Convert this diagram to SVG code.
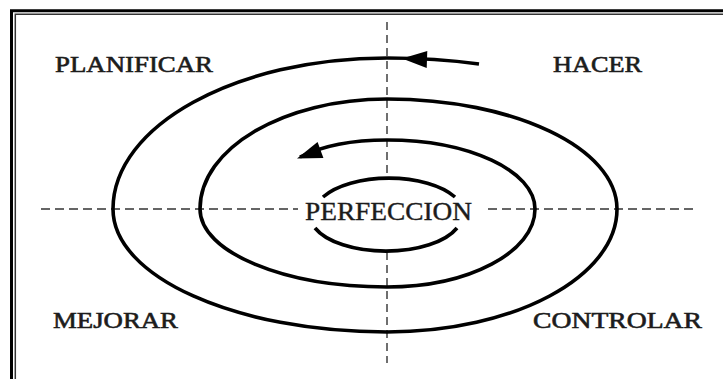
<svg xmlns="http://www.w3.org/2000/svg" xmlns:xlink="http://www.w3.org/1999/xlink" width="723" height="379" viewBox="0 0 723 379">
  <style>
    .lbl { font-family: "Liberation Serif", "Times New Roman", serif; fill: #1c1c1c; stroke: #1c1c1c; stroke-width: 0.6; }
    .big { font-size: 22.5px; }
    .ctr { font-size: 26px; stroke-width: 0.4; }
    .axis { fill: none; stroke: #333; stroke-width: 1.4; }
    .curve { fill: none; stroke: #000; stroke-width: 3.6; stroke-linecap: butt; }
  </style>
  <defs>
    <path id="ah" d="M0,0 L-25,-8.5 L-25,8.5 Z" fill="#000"/>
  </defs>
  <rect x="0" y="0" width="723" height="379" fill="#fff"/>
  <g id="frame" fill="none">
    <path d="M11.5,379 V10.8 H723" stroke="#000" stroke-width="3"/>
    <path d="M15.3,379 V14.3 H723" stroke="#333" stroke-width="1.5"/>
  </g>
  <g id="axes">
    <path class="axis" d="M387,22 V178" stroke-dasharray="8 5"/>
    <path class="axis" d="M387,252 V363" stroke-dasharray="8 5"/>
    <path class="axis" d="M41,209 H298" stroke-dasharray="9 5"/>
    <path class="axis" d="M488,209 H698" stroke-dasharray="9 5"/>
  </g>
  <g id="connectors">
    <path id="spiral" class="curve" d="M479,64 C450,60 420,58 387,58 C235.7,58 113,125.6 113,209 C113,276.9 235.7,332 387,332 C514,332 617,276.9 617,209 C617,148.2 514,99 387,99 C283.7,99 200,148.2 200,209 C200,252.1 283.7,287 387,287 C468.7,287 535,252.1 535,209 C535,170.9 468.7,140 387,140 C350,140 320,147 300,157"/>
    <path id="inner-top" class="curve" d="M323,197 A75 36 0 0 1 455,197"/>
    <path id="inner-bottom" class="curve" d="M315,228 A76 36 0 0 0 457,228"/>
    <use xlink:href="#ah" href="#ah" transform="translate(402,58.6) rotate(182)"/>
    <use xlink:href="#ah" href="#ah" transform="translate(297,158.5) rotate(160)"/>
  </g>
  <g id="node-planificar"><text class="lbl big" x="55" y="72" textLength="158" lengthAdjust="spacingAndGlyphs">PLANIFICAR</text></g>
  <g id="node-hacer"><text class="lbl big" x="553" y="72" textLength="89" lengthAdjust="spacingAndGlyphs">HACER</text></g>
  <g id="node-mejorar"><text class="lbl big" x="53" y="328" textLength="125" lengthAdjust="spacingAndGlyphs">MEJORAR</text></g>
  <g id="node-controlar"><text class="lbl big" x="533" y="328" textLength="169" lengthAdjust="spacingAndGlyphs">CONTROLAR</text></g>
  <g id="node-perfeccion"><text class="lbl ctr" x="305" y="220" textLength="167" lengthAdjust="spacingAndGlyphs">PERFECCION</text></g>
</svg>
